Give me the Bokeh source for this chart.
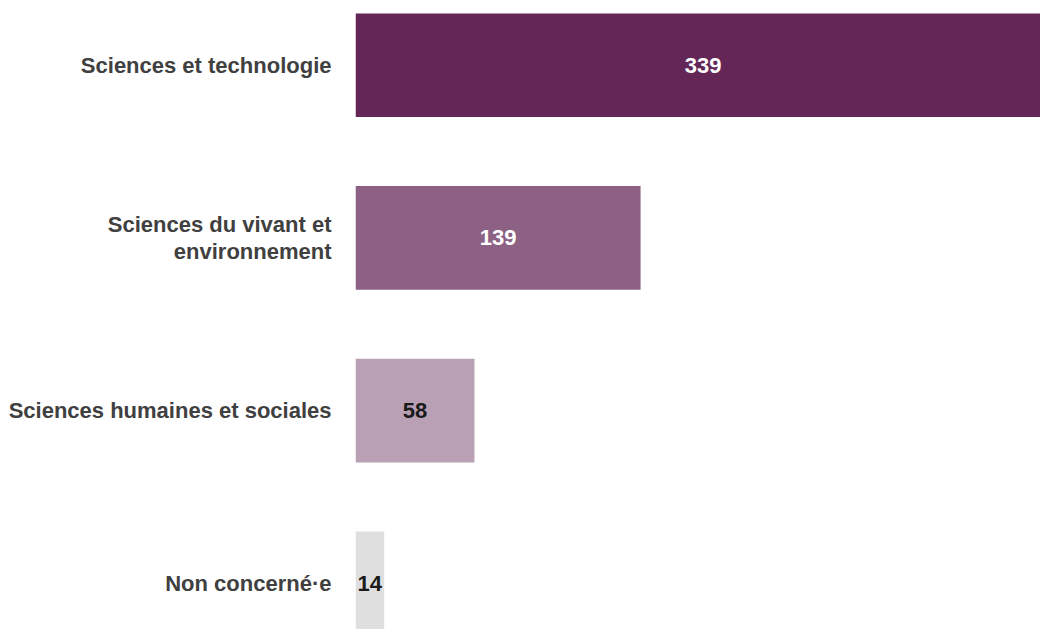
from bokeh.plotting import figure
from bokeh.models import Range1d, FixedTicker, ColumnDataSource
from bokeh.core.properties import value
from bokeh.embed import file_html
from bokeh.resources import INLINE

categories = ["Sciences et technologie", "Sciences du vivant et\nenvironnement",
              "Sciences humaines et sociales", "Non concerné·e"]
counts = [339, 139, 58, 14]
bar_colors = ["#632657", "#8C6184", "#B9A0B5", "#DFDFDF"]
text_colors = ["#FFFFFF", "#FFFFFF", "#1A1A1A", "#1A1A1A"]

n = len(categories)
ypos = [n - 1 - i for i in range(n)]

src = ColumnDataSource(dict(
    y=ypos, cnt=counts, half=[c / 2 for c in counts],
    lab=[str(c) for c in counts], color=bar_colors, tcolor=text_colors,
))

p = figure(width=1040, height=629, output_backend="svg", toolbar_location=None,
           x_range=Range1d(0, 334), y_range=Range1d(-0.2676, 3.3746),
           min_border_left=355, min_border_right=0, min_border_top=0, min_border_bottom=0)

p.hbar(y="y", left=0, right="cnt", height=0.6, color="color", line_color=None, source=src)
p.text(x="half", y="y", text="lab", text_color="tcolor", text_align="center",
       text_baseline="middle", text_font=value("Liberation Sans"), text_font_style="bold",
       text_font_size="22px", source=src)

p.xaxis.visible = False
p.xgrid.visible = False
p.ygrid.visible = False
p.outline_line_color = None

ya = p.yaxis[0]
ya.ticker = FixedTicker(ticks=ypos)
ya.major_label_overrides = {y: c for y, c in zip(ypos, categories)}
ya.axis_line_color = None
ya.major_tick_line_color = None
ya.minor_tick_line_color = None
ya.major_tick_out = 0
ya.major_tick_in = 0
ya.major_label_standoff = 24
ya.major_label_text_font = "Liberation Sans"
ya.major_label_text_font_style = "bold"
ya.major_label_text_font_size = "22px"
ya.major_label_text_color = "#404040"
ya.major_label_text_align = "right"
ya.major_label_text_line_height = 1.1

open("out.html", "w").write(file_html(p, INLINE))
